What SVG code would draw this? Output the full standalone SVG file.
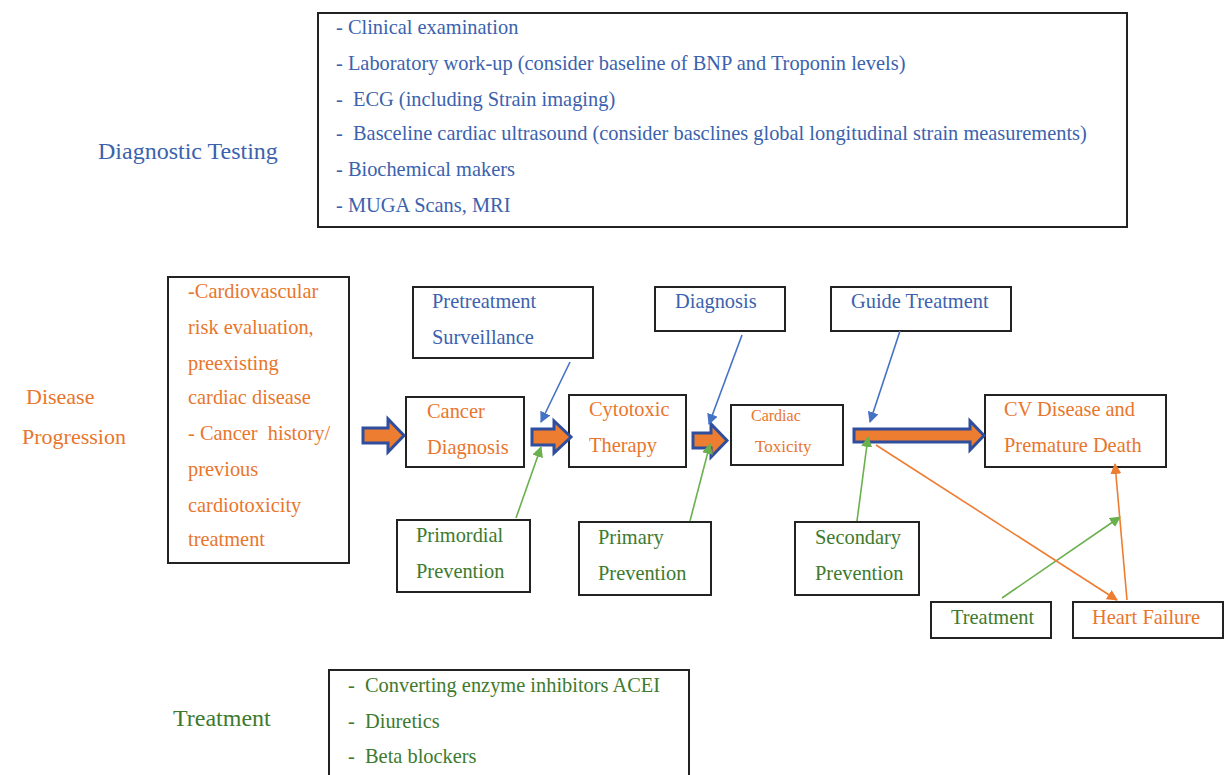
<svg xmlns="http://www.w3.org/2000/svg" width="1224" height="775" viewBox="0 0 1224 775">
<style>
text{font-family:"Liberation Serif","Times New Roman",serif;font-size:20.4px}
.box{fill:#fff;stroke:#222;stroke-width:2}
.b{fill:#3b62ad}
.o{fill:#e8762d}
.g{fill:#3d7a2e}
.lbl{font-size:22px}
.big{font-size:24px}
.blk{fill:#ed7d31;stroke:#2f4f9e;stroke-width:3;stroke-linejoin:miter}
.lb{stroke:#4472c4;stroke-width:1.6;fill:none}
.lg{stroke:#6ab04c;stroke-width:1.6;fill:none}
.lo{stroke:#ed7d31;stroke-width:1.6;fill:none}
</style>
<defs>
<marker id="mb" viewBox="0 0 10 10" refX="9" refY="5" markerWidth="11" markerHeight="11" markerUnits="userSpaceOnUse" orient="auto"><path d="M0,0L10,5L0,10z" fill="#4472c4"/></marker>
<marker id="mg" viewBox="0 0 10 10" refX="9" refY="5" markerWidth="11" markerHeight="11" markerUnits="userSpaceOnUse" orient="auto"><path d="M0,0L10,5L0,10z" fill="#6ab04c"/></marker>
<marker id="mo" viewBox="0 0 10 10" refX="9" refY="5" markerWidth="11" markerHeight="11" markerUnits="userSpaceOnUse" orient="auto"><path d="M0,0L10,5L0,10z" fill="#ed7d31"/></marker>
</defs>
<rect width="1224" height="775" fill="#fff"/>

<g id="labels">
<text class="b big" x="98" y="159">Diagnostic Testing</text>
<text class="o lbl" x="26" y="404">Disease</text>
<text class="o lbl" x="22" y="444">Progression</text>
<text class="g big" x="173" y="726">Treatment</text>
</g>

<g id="diagnostic-box">
<rect class="box" x="318" y="13" width="809" height="214"/>
<text class="b" x="336" y="34">- Clinical examination</text>
<text class="b" x="336" y="70">- Laboratory work-up (consider baseline of BNP and Troponin levels)</text>
<text class="b" x="336" y="106">-&#160; ECG (including Strain imaging)</text>
<text class="b" x="336" y="140">-&#160; Basceline cardiac ultrasound (consider basclines global longitudinal strain measurements)</text>
<text class="b" x="336" y="176">- Biochemical makers</text>
<text class="b" x="336" y="212">- MUGA Scans, MRI</text>
</g>

<g id="risk-box">
<rect class="box" x="168" y="277" width="181" height="286"/>
<text class="o" x="188" y="298">-Cardiovascular</text>
<text class="o" x="188" y="334">risk evaluation,</text>
<text class="o" x="188" y="370">preexisting</text>
<text class="o" x="188" y="404">cardiac disease</text>
<text class="o" x="188" y="440">- Cancer&#160; history/</text>
<text class="o" x="188" y="476">previous</text>
<text class="o" x="188" y="512">cardiotoxicity</text>
<text class="o" x="188" y="546">treatment</text>
</g>

<g id="pretreatment">
<rect class="box" x="413" y="287" width="180" height="71"/>
<text class="b" x="432" y="308">Pretreatment</text>
<text class="b" x="432" y="344">Surveillance</text>
</g>
<g id="diagnosis">
<rect class="box" x="655" y="287" width="130" height="44"/>
<text class="b" x="675" y="308">Diagnosis</text>
</g>
<g id="guide-treatment">
<rect class="box" x="831" y="287" width="180" height="44"/>
<text class="b" x="851" y="308">Guide Treatment</text>
</g>

<g id="cancer-diagnosis">
<rect class="box" x="406" y="397" width="118" height="70"/>
<text class="o" x="427" y="418">Cancer</text>
<text class="o" x="427" y="454">Diagnosis</text>
</g>
<g id="cytotoxic-therapy">
<rect class="box" x="569" y="395" width="117" height="72"/>
<text class="o" x="589" y="416">Cytotoxic</text>
<text class="o" x="589" y="452">Therapy</text>
</g>
<g id="cardiac-toxicity">
<rect class="box" x="731" y="405" width="112" height="60"/>
<text class="o" x="751" y="421" style="font-size:16px">Cardiac</text>
<text class="o" x="755" y="452" style="font-size:17px">Toxicity</text>
</g>
<g id="cv-disease">
<rect class="box" x="985" y="395" width="181" height="72"/>
<text class="o" x="1004" y="416">CV Disease and</text>
<text class="o" x="1004" y="452">Premature Death</text>
</g>

<g id="primordial">
<rect class="box" x="397" y="520" width="133" height="72"/>
<text class="g" x="416" y="542">Primordial</text>
<text class="g" x="416" y="578">Prevention</text>
</g>
<g id="primary">
<rect class="box" x="579" y="522" width="132" height="73"/>
<text class="g" x="598" y="544">Primary</text>
<text class="g" x="598" y="580">Prevention</text>
</g>
<g id="secondary">
<rect class="box" x="795" y="522" width="124" height="73"/>
<text class="g" x="815" y="544">Secondary</text>
<text class="g" x="815" y="580">Prevention</text>
</g>
<g id="treatment-node">
<rect class="box" x="931" y="602" width="120" height="36"/>
<text class="g" x="951" y="624">Treatment</text>
</g>
<g id="heart-failure">
<rect class="box" x="1073" y="602" width="150" height="36"/>
<text class="o" x="1092" y="624">Heart Failure</text>
</g>

<g id="treatment-box">
<rect class="box" x="329" y="670" width="360" height="110"/>
<text class="g" x="348" y="692">-&#160; Converting enzyme inhibitors ACEI</text>
<text class="g" x="348" y="728">-&#160; Diuretics</text>
<text class="g" x="348" y="763">-&#160; Beta blockers</text>
</g>

<g id="connectors">
<polygon class="blk" points="363,428 388,428 388,419 404,435.5 388,452 388,443 363,443"/>
<polygon class="blk" points="532,429 554,429 554,421 571,437 554,453 554,445 532,445"/>
<polygon class="blk" points="693,433 711,433 711,424 727,440.5 711,457 711,448 693,448"/>
<polygon class="blk" points="854,429 970,429 970,421 984,435.5 970,450 970,442 854,442"/>

<line class="lb" x1="570" y1="362" x2="541" y2="422" marker-end="url(#mb)"/>
<line class="lb" x1="742" y1="335" x2="709" y2="424" marker-end="url(#mb)"/>
<line class="lb" x1="900" y1="331" x2="870" y2="422" marker-end="url(#mb)"/>

<line class="lg" x1="516" y1="518" x2="541" y2="447" marker-end="url(#mg)"/>
<line class="lg" x1="690" y1="521" x2="710" y2="444" marker-end="url(#mg)"/>
<line class="lg" x1="857" y1="521" x2="868" y2="437" marker-end="url(#mg)"/>
<line class="lg" x1="1002" y1="598" x2="1120" y2="517" marker-end="url(#mg)"/>

<line class="lo" x1="876" y1="445" x2="1117" y2="600" marker-end="url(#mo)"/>
<line class="lo" x1="1127" y1="600" x2="1115" y2="464" marker-end="url(#mo)"/>
</g>
</svg>
